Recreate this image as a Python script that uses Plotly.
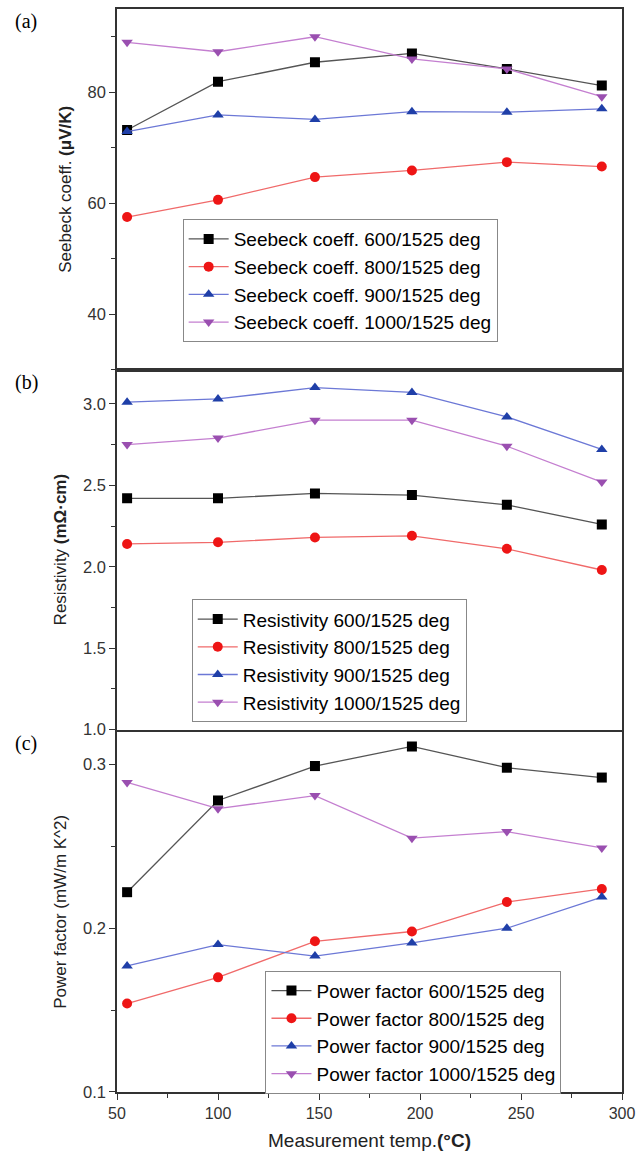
import plotly.graph_objects as go

temps = [55, 100, 148, 196, 243, 290]
samples = ["600/1525 deg", "800/1525 deg", "900/1525 deg", "1000/1525 deg"]

seebeck_600 = [73.2, 81.9, 85.4, 87.0, 84.2, 81.2]
seebeck_800 = [57.5, 60.6, 64.7, 65.9, 67.4, 66.6]
seebeck_900 = [72.9, 75.9, 75.1, 76.5, 76.4, 77.0]
seebeck_1000 = [89.0, 87.3, 90.0, 86.0, 84.2, 79.2]

resist_600 = [2.42, 2.42, 2.45, 2.44, 2.38, 2.26]
resist_800 = [2.14, 2.15, 2.18, 2.19, 2.11, 1.98]
resist_900 = [3.01, 3.03, 3.10, 3.07, 2.92, 2.72]
resist_1000 = [2.75, 2.79, 2.90, 2.90, 2.74, 2.52]

pf_600 = [0.222, 0.278, 0.299, 0.311, 0.298, 0.292]
pf_800 = [0.154, 0.170, 0.192, 0.198, 0.216, 0.224]
pf_900 = [0.177, 0.190, 0.183, 0.191, 0.200, 0.219]
pf_1000 = [0.289, 0.273, 0.281, 0.255, 0.259, 0.249]

marker_colors = ["#000000", "#ee1515", "#1f3fa8", "#9a4fb0"]
line_colors = ["#555555", "#f06a6a", "#6c78d6", "#c47fd0"]
symbols = ["square", "circle", "triangle-up", "triangle-down"]

panels = [
    ("Seebeck coeff.", [seebeck_600, seebeck_800, seebeck_900, seebeck_1000], "x", "y", "legend"),
    ("Resistivity", [resist_600, resist_800, resist_900, resist_1000], "x2", "y2", "legend2"),
    ("Power factor", [pf_600, pf_800, pf_900, pf_1000], "x3", "y3", "legend3"),
]

fig = go.Figure()
for prefix, series, xa, ya, lg in panels:
    for i, vals in enumerate(series):
        fig.add_trace(go.Scatter(
            x=temps, y=vals, mode="lines+markers",
            name=f"{prefix} {samples[i]}",
            xaxis=xa, yaxis=ya, legend=lg,
            line=dict(color=line_colors[i], width=1.3),
            marker=dict(symbol=symbols[i], color=marker_colors[i], size=10, line=dict(width=0)),
        ))

tickfont = dict(family="Liberation Sans, Arial", size=16.5, color="#333333")
xtickfont = dict(family="Liberation Sans, Arial", size=16, color="#333333")
titlefont = dict(family="Liberation Sans, Arial", size=17, color="#222222")
xtitlefont = dict(family="Liberation Sans, Arial", size=19, color="#222222")
axcommon = dict(showline=True, linewidth=1.5, linecolor="#333333", mirror=True,
                showgrid=False, zeroline=False, tickfont=tickfont, ticks="outside",
                ticklen=6, tickwidth=1.3, tickcolor="#333333")
minor_common = dict(ticks="outside", ticklen=4, tickcolor="#333333")

xbase = dict(axcommon, range=[50, 300], dtick=50, tick0=0)
fig.update_layout(
    width=642, height=1157,
    margin=dict(l=117, r=19, t=7, b=65),
    plot_bgcolor="white", paper_bgcolor="white",
    font=dict(family="Liberation Sans, Arial", color="#000000"),
    xaxis=dict(xbase, anchor="y", matches="x3", showticklabels=False, ticks=""),
    xaxis2=dict(xbase, anchor="y2", matches="x3", showticklabels=False, ticks=""),
    xaxis3=dict(xbase, anchor="y3", tickfont=xtickfont, minor=dict(minor_common, dtick=25),
                title=dict(text="Measurement temp.<b>(°C)</b>", font=xtitlefont, standoff=13)),
    yaxis=dict(axcommon, domain=[0.667, 1.0], anchor="x", range=[30, 95], dtick=20, tick0=0,
               minor=dict(minor_common, dtick=10),
               title=dict(text="Seebeck coeff. <b>(μV/K)</b>", font=titlefont, standoff=12)),
    yaxis2=dict(axcommon, domain=[0.3346, 0.667], anchor="x2", range=[1.0, 3.21], dtick=0.5, tick0=0,
                tickformat=".1f", minor=dict(minor_common, dtick=0.25),
                title=dict(text="Resistivity <b>(mΩ·cm)</b>", font=titlefont, standoff=12)),
    yaxis3=dict(axcommon, domain=[0.0, 0.3327], anchor="x3", range=[0.1, 0.32], dtick=0.1, tick0=0,
                tickformat=".1f", minor=dict(minor_common, dtick=0.05),
                title=dict(text="Power factor (mW/m K^2)", font=titlefont, standoff=12)),
)

legfont = dict(family="Liberation Sans, Arial", size=19, color="#000000")
legcommon = dict(font=legfont, bgcolor="white", bordercolor="#888888", borderwidth=1,
                 xanchor="left", yanchor="top", itemwidth=40, tracegroupgap=0)
fig.update_layout(
    legend=dict(legcommon, x=0.130, y=0.806),
    legend2=dict(legcommon, x=0.148, y=0.455),
    legend3=dict(legcommon, x=0.294, y=0.112),
)

for lab, ypos in [("(a)", 0.988), ("(b)", 0.655), ("(c)", 0.3217)]:
    fig.add_annotation(text=lab, xref="paper", yref="paper", x=-0.18, y=ypos,
                       xanchor="center", yanchor="middle", showarrow=False,
                       font=dict(family="Liberation Serif, Times New Roman", size=20, color="#000000"))

fig.write_html("out.html", config={"displayModeBar": False},
               post_script="document.body.style.margin='0px';")
